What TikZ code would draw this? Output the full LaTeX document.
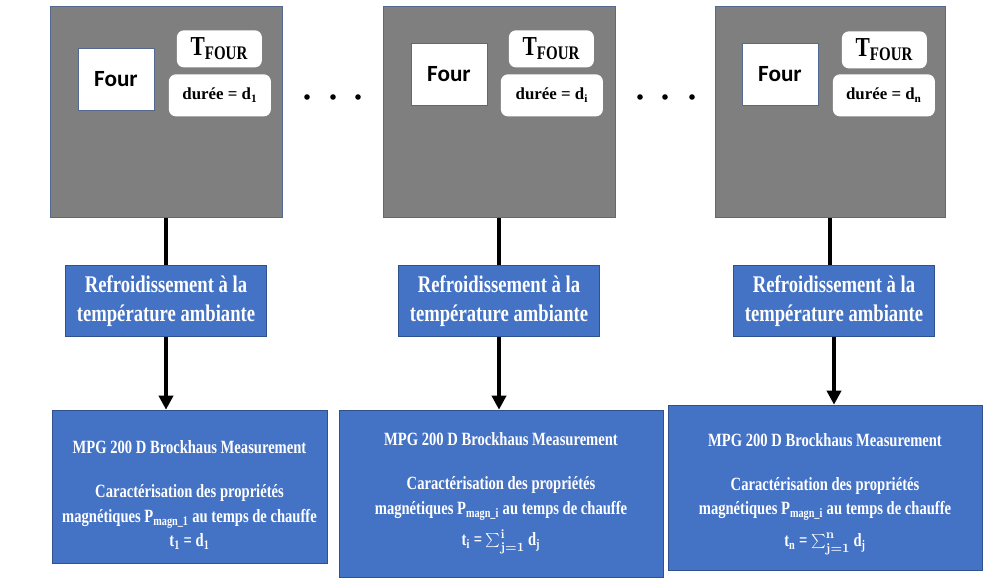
\documentclass[tikz,border=0pt]{standalone}
\usepackage{fontspec}
\setmainfont{Liberation Serif}
\newfontfamily\narrowserif[FakeStretch=0.78]{Liberation Serif}
\newfontfamily\calibfont{Carlito}
\usetikzlibrary{positioning,arrows.meta}

\definecolor{ovengray}{HTML}{7F7F7F}
\definecolor{ovenedge}{HTML}{55688F}
\definecolor{stepblue}{HTML}{4472C4}
\definecolor{stepedge}{HTML}{2F528F}

\begin{document}
\begin{tikzpicture}[
    x=0.025cm,
    y=-0.025cm,
    oven/.style={
        draw=ovenedge,
        fill=ovengray,
        line width=0.6pt,
        minimum width=5.8cm,
        minimum height=5.275cm
    },
    furnace/.style={draw=ovenedge, fill=white, line width=0.5pt,
        minimum width=1.9cm, minimum height=1.55cm,
        font=\calibfont\bfseries\fontsize{16.5}{18}\selectfont},
    temp/.style={fill=white, rounded corners=5pt,
        minimum width=2.125cm, minimum height=0.925cm,
        font=\narrowserif\bfseries\fontsize{19.5}{21}\selectfont},
    dur/.style={fill=white, rounded corners=5pt,
        minimum width=2.55cm, minimum height=1.05cm,
        font=\bfseries\fontsize{12}{14}\selectfont},
    cool/.style={draw=stepedge, fill=stepblue, text=white, align=center,
        minimum width=5.025cm, minimum height=1.775cm,
        font=\narrowserif\bfseries\fontsize{17}{20.5}\selectfont},
    meas/.style={draw=stepedge, fill=stepblue, text=white, align=center,
        font=\narrowserif\bfseries\fontsize{13.3}{17.4}\selectfont},
    link/.style={line width=2.8pt},
    arrow/.style={-{Triangle[width=0.35cm,length=0.35cm]}, line width=2.8pt},
    dot/.style={circle, fill=black, inner sep=0pt, minimum size=0.14cm}
]
\useasboundingbox (0,0) rectangle (985,579);

% ============================================================
% FOURS (traitement thermique)
% ============================================================
\node[oven] (g1) at (166,112) {};
\node[furnace, below right=1.05cm and 0.7cm of g1.north west] (f1) {Four};
\node[temp, below right=0.6cm and 3.175cm of g1.north west] (T1) {T\textsubscript{FOUR}};
\node[dur, below right=1.7cm and 2.975cm of g1.north west] (D1) {durée = d\textsubscript{1}};

\node[oven] (g2) at (499,112) {};
\node[furnace, below right=0.925cm and 0.7cm of g2.north west] (f2) {Four};
\node[temp, below right=0.6cm and 3.15cm of g2.north west] (T2) {T\textsubscript{FOUR}};
\node[dur, below right=1.7cm and 2.95cm of g2.north west] (D2) {durée = d\textsubscript{i}};

\node[oven, minimum width=5.75cm] (g3) at (830,112) {};
\node[furnace, below right=0.925cm and 0.675cm of g3.north west] (f3) {Four};
\node[temp, below right=0.625cm and 3.175cm of g3.north west] (T3) {T\textsubscript{FOUR}};
\node[dur, below right=1.7cm and 2.95cm of g3.north west] (D3) {durée = d\textsubscript{n}};

% points de suspension
\node[dot] (p1) at (307,97) {};
\node[dot] (p2) at (333,97) {};
\node[dot] (p3) at (358,97) {};
\node[dot] (p4) at (640,97) {};
\node[dot] (p5) at (665,97) {};
\node[dot] (p6) at (692,97) {};

% ============================================================
% REFROIDISSEMENT
% ============================================================
\node[cool, below=1.175cm of g1] (r1) {Refroidissement à la\\température ambiante};
\node[cool, below=1.175cm of g2] (r2) {Refroidissement à la\\température ambiante};
\node[cool, below=1.175cm of g3, xshift=0.1cm] (r3) {Refroidissement à la\\température ambiante};

\draw[link] (g1.south) -- (g1.south |- r1.north);
\draw[link] (g2.south) -- (g2.south |- r2.north);
\draw[link] (g3.south) -- (g3.south |- r3.north);

% ============================================================
% MESURES MPG 200 D
% ============================================================
\node[meas, minimum width=6.875cm, minimum height=3.825cm] (m1) at (189.5,486.5)
    {\rule{0pt}{0.75cm}MPG 200 D Brockhaus Measurement\\[14pt]
     Caractérisation des propriétés\\
     magnétiques P\textsubscript{magn\_1} au temps de chauffe\\
     t\textsubscript{1} = d\textsubscript{1}};
\node[meas, minimum width=8.1cm, minimum height=4.175cm] (m2) at (501,493.5)
    {MPG 200 D Brockhaus Measurement\\[14pt]
     Caractérisation des propriétés\\
     magnétiques P\textsubscript{magn\_i} au temps de chauffe\\[5pt]
     t\textsubscript{i} = {\boldmath$\sum_{\mathbf{j=1}}^{\mathbf{i}}$}\,d\textsubscript{j}};
\node[meas, minimum width=7.85cm, minimum height=4.125cm] (m3) at (825,487.5)
    {\rule{0pt}{0.65cm}MPG 200 D Brockhaus Measurement\\[14pt]
     Caractérisation des propriétés\\
     magnétiques P\textsubscript{magn\_i} au temps de chauffe\\[5pt]
     t\textsubscript{n} = {\boldmath$\sum_{\mathbf{j=1}}^{\mathbf{n}}$}\,d\textsubscript{j}};

\draw[arrow] (r1.south) -- (r1.south |- m1.north);
\draw[arrow] (r2.south) -- (r2.south |- m2.north);
\draw[arrow] (r3.south) -- (r3.south |- m3.north);

\end{tikzpicture}
\end{document}
